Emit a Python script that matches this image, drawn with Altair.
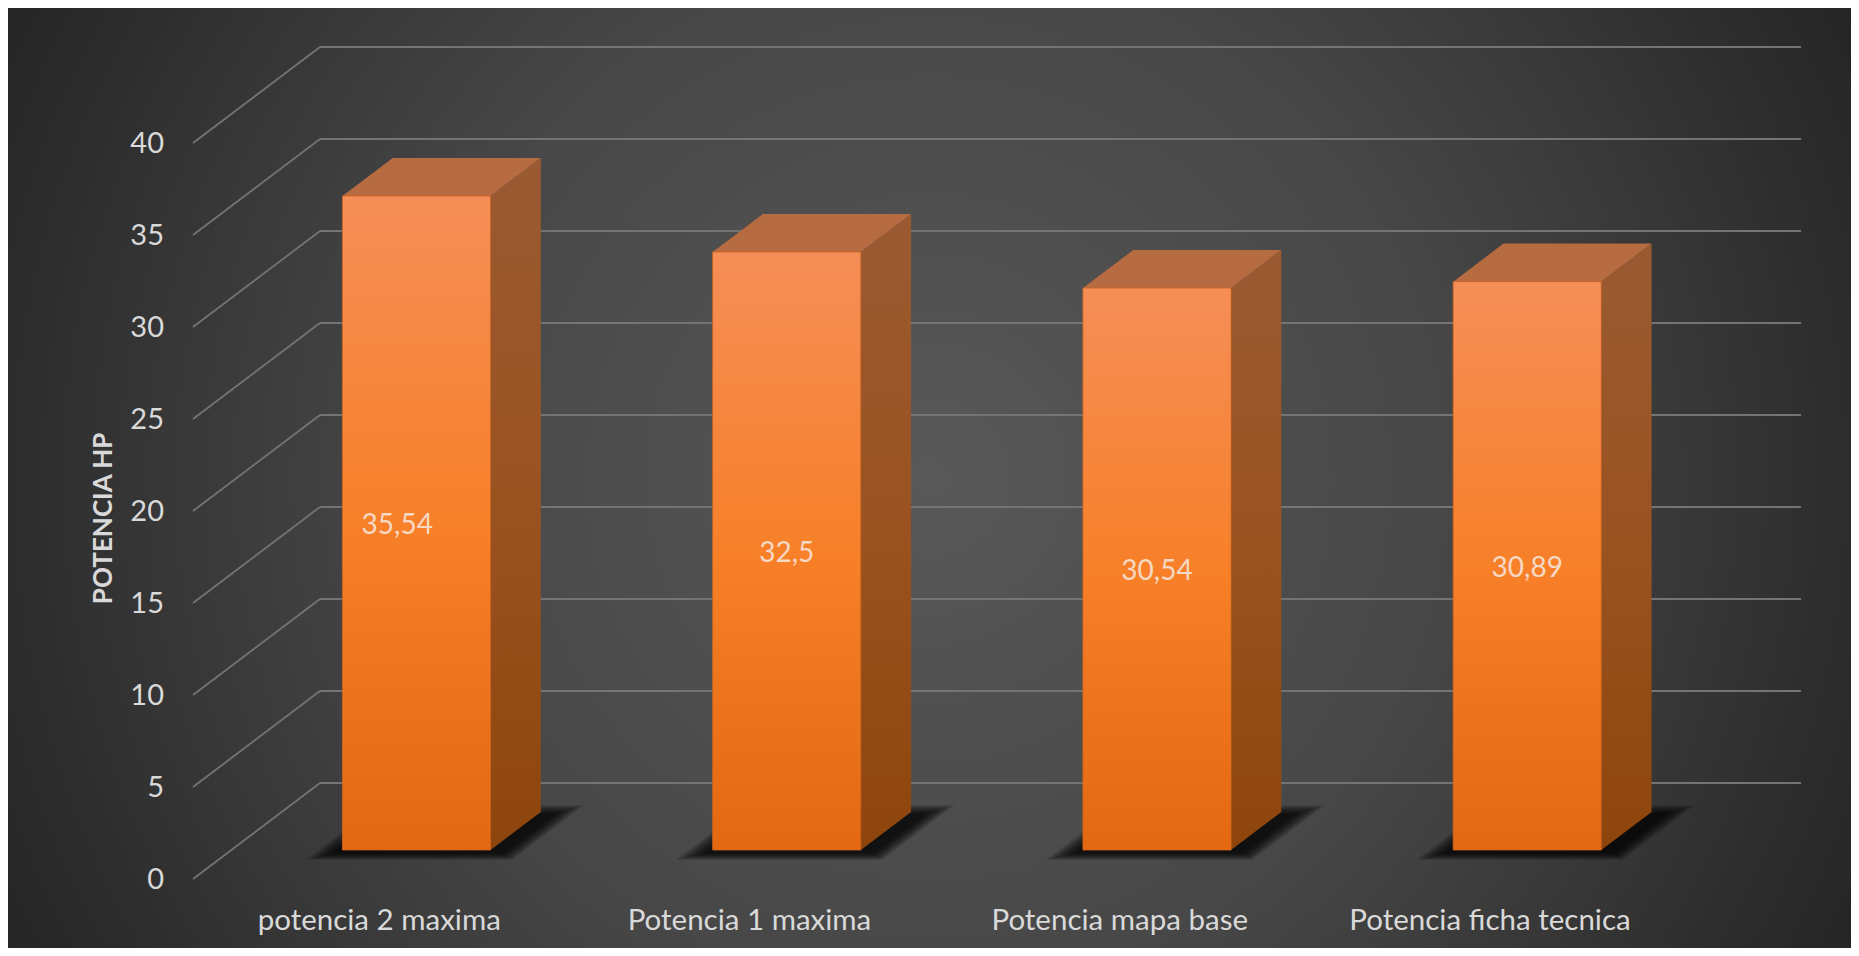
import altair as alt
import pandas as pd

categories = ["potencia 2 maxima", "Potencia 1 maxima", "Potencia mapa base", "Potencia ficha tecnica"]
values = [35.54, 32.5, 30.54, 30.89]
value_labels = ["35,54", "32,5", "30,54", "30,89"]
ticks = [0, 5, 10, 15, 20, 25, 30, 35, 40]
axis_title = "POTENCIA HP"

W, H = 1843, 940
CAT_PX = 370.25            # one category slot
VAL_PX = 18.4              # one value unit
X0_PAGE, Y0_PAGE = 193, 879
DEPTH_X = 127 / CAT_PX     # full chart depth, horizontally, in category units
DEPTH_Y = 96 / VAL_PX      # full chart depth, vertically, in value units
XDOM = [(8 - X0_PAGE) / CAT_PX, (8 + W - X0_PAGE) / CAT_PX]
YDOM = [(Y0_PAGE - 8 - H) / VAL_PX, (Y0_PAGE - 8) / VAL_PX]
HALF = 0.2
D0, D1 = 0.302, 0.698


def px(u, d):
    return u + d * DEPTH_X


def py(v, d):
    return v + d * DEPTH_Y


xs = alt.Scale(domain=XDOM, nice=False, zero=False)
ys = alt.Scale(domain=YDOM, nice=False, zero=False)


def X():
    return alt.X("x:Q", scale=xs, axis=None)


def Y():
    return alt.Y("y:Q", scale=ys, axis=None, stack=None)


# background --------------------------------------------------------------
side = (W - H) / 2
bg = alt.Chart(alt.Data(values=[{"a": 1}])).mark_rect(
    clip=True,
    fill={
        "gradient": "radial",
        "x1": 0.5, "y1": 0.5, "r1": 0,
        "x2": 0.5, "y2": 0.5, "r2": 0.5617,
        "stops": [
            {"offset": 0, "color": "#585858"},
            {"offset": 0.5, "color": "#474747"},
            {"offset": 1, "color": "#252525"},
        ],
    },
).encode(
    x=alt.value(0), x2=alt.value(W),
    y=alt.value(-side), y2=alt.value(H + side),
)

# gridlines ---------------------------------------------------------------
grid_rows = []
for t in ticks:
    grid_rows.append({"x": px(0, 0), "x2": px(0, 1), "y": py(t, 0), "y2": py(t, 1)})
    grid_rows.append({"x": px(0, 1), "x2": px(4, 1), "y": py(t, 1), "y2": py(t, 1)})
grid = alt.Chart(pd.DataFrame(grid_rows)).mark_rule(color="#747474", strokeWidth=1.8).encode(
    x=X(), x2="x2:Q", y=Y(), y2="y2:Q",
)

# shadows -----------------------------------------------------------------
LEVELS = 16
shadow_rows = []
for i, _ in enumerate(categories):
    c = i + 0.5
    for lvl in range(LEVELS):
        t = lvl / (LEVELS - 1)
        left = c - HALF - 0.066 + t * 0.056
        right = c + HALF + 0.094 - t * 0.049
        dl = 0.198 + t * 0.072
        dh = 0.77 - t * 0.093
        key = f"{i}-{lvl}"
        shadow_rows += [
            {"x": px(left, dl), "y": py(0, dl), "y2": py(0, dl), "key": key},
            {"x": px(left, dh), "y": py(0, dl), "y2": py(0, dh), "key": key},
            {"x": px(right, dl), "y": py(0, dl), "y2": py(0, dh), "key": key},
            {"x": px(right, dh), "y": py(0, dh), "y2": py(0, dh), "key": key},
        ]
shadow = alt.Chart(pd.DataFrame(shadow_rows)).mark_area(
    color="#000000", opacity=0.075, interpolate="linear", orient="vertical",
).encode(x=X(), y=Y(), y2="y2:Q", detail="key:N")

# bars --------------------------------------------------------------------
front_df = pd.DataFrame([
    {"x": px(i + 0.5 - HALF, D0), "x2": px(i + 0.5 + HALF, D0), "y": py(0, D0), "y2": py(v, D0)}
    for i, v in enumerate(values)
])
front = alt.Chart(front_df).mark_rect(
    fill={
        "gradient": "linear", "x1": 0, "y1": 0, "x2": 0, "y2": 1,
        "stops": [
            {"offset": 0, "color": "#F58E57"},
            {"offset": 0.5, "color": "#F78029"},
            {"offset": 1, "color": "#E36811"},
        ],
    },
    stroke="#D0661E", strokeWidth=0.8,
).encode(x=X(), x2="x2:Q", y=Y(), y2="y2:Q")

side_rows, top_rows = [], []
for i, v in enumerate(values):
    l, r = i + 0.5 - HALF, i + 0.5 + HALF
    side_rows += [
        {"x": px(r, D0), "y": py(0, D0), "y2": py(v, D0), "key": str(i)},
        {"x": px(r, D1), "y": py(0, D1), "y2": py(v, D1), "key": str(i)},
    ]
    top_rows += [
        {"x": px(l, D0), "y": py(v, D0), "y2": py(v, D0), "key": str(i)},
        {"x": px(l, D1), "y": py(v, D0), "y2": py(v, D1), "key": str(i)},
        {"x": px(r, D0), "y": py(v, D0), "y2": py(v, D1), "key": str(i)},
        {"x": px(r, D1), "y": py(v, D1), "y2": py(v, D1), "key": str(i)},
    ]
side_face = alt.Chart(pd.DataFrame(side_rows)).mark_area(
    interpolate="linear", orient="vertical",
    fill={
        "gradient": "linear", "x1": 0, "y1": 0, "x2": 0, "y2": 1,
        "stops": [
            {"offset": 0, "color": "#9A5A32"},
            {"offset": 0.5, "color": "#9A5220"},
            {"offset": 1, "color": "#8E450C"},
        ],
    },
).encode(x=X(), y=Y(), y2="y2:Q", detail="key:N")

top_face = alt.Chart(pd.DataFrame(top_rows)).mark_area(
    interpolate="linear", fill="#B76B40", orient="vertical",
).encode(x=X(), y=Y(), y2="y2:Q", detail="key:N")

# value labels --------------------------------------------------------------
label_df = pd.DataFrame([
    {
        "x": px(i + 0.5, D0) + (-0.052 if i == 0 else 0.0),
        "y": py(v / 2, D0) - 0.15,
        "t": value_labels[i],
    }
    for i, v in enumerate(values)
])
labels = alt.Chart(label_df).mark_text(
    font="Lato", fontSize=28, color="#F6D9C4", align="center", baseline="middle",
).encode(x=X(), y=Y(), text="t:N")

# axis text -----------------------------------------------------------------
tick_df = pd.DataFrame({"x": [-29 / CAT_PX] * len(ticks), "y": [t - 0.05 for t in ticks],
                        "t": [str(t) for t in ticks]})
tick_text = alt.Chart(tick_df).mark_text(
    font="Lato", fontSize=29, color="#D9D9D9", align="right", baseline="middle",
).encode(x=X(), y=Y(), text="t:N")

cat_df = pd.DataFrame({"x": [i + 0.503 for i in range(len(categories))], "y": [-2.28] * len(categories),
                       "t": categories})
cat_text = alt.Chart(cat_df).mark_text(
    font="Lato", fontSize=29.5, color="#D9D9D9", align="center", baseline="middle",
).encode(x=X(), y=Y(), text="t:N")

title_df = pd.DataFrame({"x": [-0.24], "y": [19.6], "t": [axis_title]})
title_text = alt.Chart(title_df).mark_text(
    font="Lato", fontSize=26, fontWeight="bold", color="#D9D9D9", angle=270,
    align="center", baseline="middle",
).encode(x=X(), y=Y(), text="t:N")

chart = alt.layer(bg, grid, shadow, side_face, top_face, front, labels, tick_text, cat_text, title_text).properties(
    width=W, height=H, padding=0,
    autosize=alt.AutoSizeParams(type="none"),
).configure_view(strokeWidth=0)

chart.save("out.html", embed_options={"renderer": "svg", "actions": False})
